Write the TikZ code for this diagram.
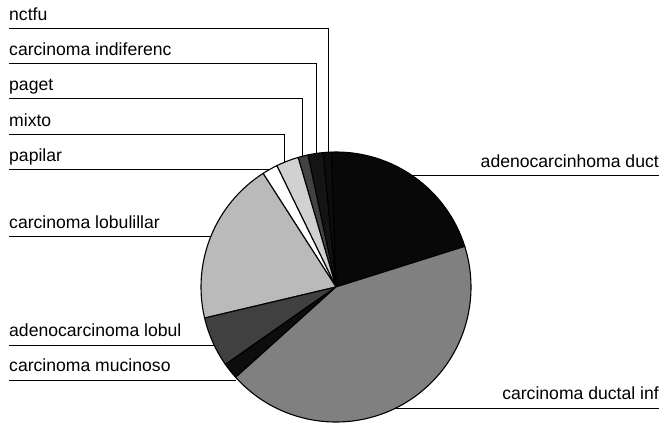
\documentclass[tikz,border=0pt]{standalone}
\usepackage{fontspec}
\setmainfont{Liberation Sans}
\usepackage{tikz}

\tikzset{
  lbl/.style={font=\fontsize{17.6}{20}\selectfont, inner xsep=0pt, inner ysep=8pt, text depth=0pt},
  leader/.style={black, line width=1pt},
  slice/.style={draw=black, line width=1.1pt, line join=round}
}

\begin{document}
\begin{tikzpicture}[x=1pt,y=1pt]
	\useasboundingbox (0,0) rectangle (662,-425);

	% labels on the left
	\node[lbl, anchor=south west] (nctfu) at (9,-29) {nctfu};
	\node[lbl, anchor=south west] (indif) at (9,-64) {carcinoma indiferenc};
	\node[lbl, anchor=south west] (paget) at (9,-99) {paget};
	\node[lbl, anchor=south west] (mixto) at (9,-135) {mixto};
	\node[lbl, anchor=south west] (papilar) at (9,-170) {papilar};
	\node[lbl, anchor=south west] (lobulillar) at (9,-237) {carcinoma lobulillar};
	\node[lbl, anchor=south west] (adlobul) at (9,-345) {adenocarcinoma lobul};
	\node[lbl, anchor=south west] (mucinoso) at (9,-380) {carcinoma mucinoso};
	% labels on the right
	\node[lbl, anchor=south east] (duct) at (659,-176) {adenocarcinhoma duct};
	\node[lbl, anchor=south east] (ductal) at (659,-408) {carcinoma ductal inf};

	% ends of the leaders on the pie
	\coordinate (e-nctfu) at (328,-155);
	\coordinate (e-indif) at (316,-156);
	\coordinate (e-paget) at (302,-159);
	\coordinate (e-mixto) at (284,-165);
	\coordinate (e-papilar) at (270,-170);
	\coordinate (e-lobulillar) at (213,-237);
	\coordinate (e-adlobul) at (216,-345);
	\coordinate (e-mucinoso) at (236,-380);
	\coordinate (e-duct) at (411,-176);
	\coordinate (e-ductal) at (394,-408);

	\draw[leader] (nctfu.south west) -| (e-nctfu);
	\draw[leader] (indif.south west) -| (e-indif);
	\draw[leader] (paget.south west) -| (e-paget);
	\draw[leader] (mixto.south west) -| (e-mixto);
	\draw[leader] (papilar.south west) -- (e-papilar);
	\draw[leader] (lobulillar.south west) -- (e-lobulillar);
	\draw[leader] (adlobul.south west) -- (e-adlobul);
	\draw[leader] (mucinoso.south west) -- (e-mucinoso);
	\draw[leader] (e-duct) -- (duct.south east);
	\draw[leader] (e-ductal) -- (ductal.south east);

	% the pie
	\coordinate (c) at (336,-287);
	\begin{scope}[shift={(c)}]
		\filldraw[slice, fill=black!97] (0,0) -- (17.5:135) arc (17.5:92:135) -- cycle;
		\filldraw[slice, fill=black!95] (0,0) -- (92:135) arc (92:95.5:135) -- cycle;
		\filldraw[slice, fill=black!92] (0,0) -- (95.5:135) arc (95.5:102:135) -- cycle;
		\filldraw[slice, fill=black!74] (0,0) -- (102:135) arc (102:106.3:135) -- cycle;
		\filldraw[slice, fill=black!18] (0,0) -- (106.3:135) arc (106.3:116:135) -- cycle;
		\filldraw[slice, fill=white] (0,0) -- (116:135) arc (116:122.7:135) -- cycle;
		\filldraw[slice, fill=black!27] (0,0) -- (122.7:135) arc (122.7:193.3:135) -- cycle;
		\filldraw[slice, fill=black!75] (0,0) -- (193.3:135) arc (193.3:215:135) -- cycle;
		\filldraw[slice, fill=black!95] (0,0) -- (215:135) arc (215:222:135) -- cycle;
		\filldraw[slice, fill=black!50] (0,0) -- (222:135) arc (222:377.5:135) -- cycle;
	\end{scope}
\end{tikzpicture}
\end{document}
